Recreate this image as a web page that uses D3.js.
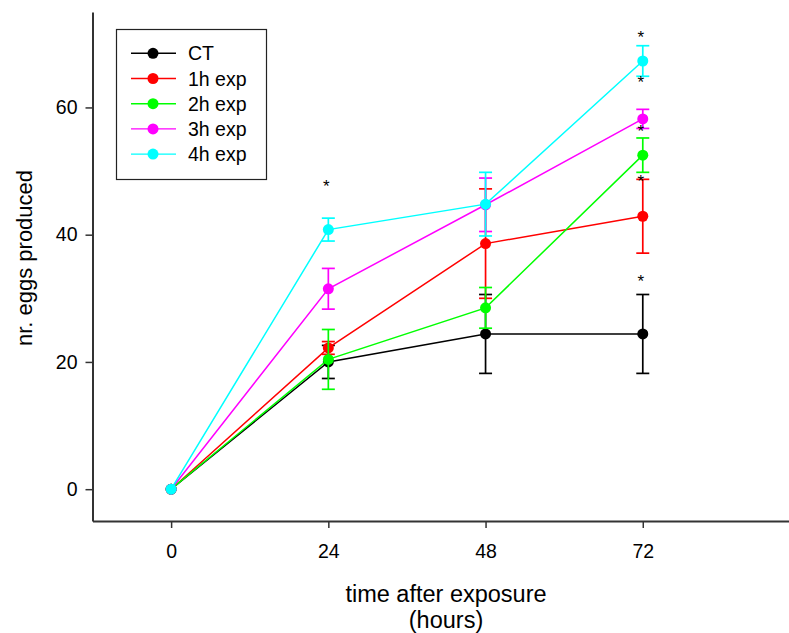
<!DOCTYPE html>
<html><head><meta charset="utf-8">
<script src="https://cdn.jsdelivr.net/npm/d3@7"></script>
<style>body{margin:0;background:#fff}svg{display:block}text{font-family:Arial,"Liberation Sans",sans-serif;fill:#000}</style>
</head><body><svg id="c" width="789" height="633"></svg>
<script>
const hours = [0, 24, 48, 72];
const seriesNames = ["CT", "1h exp", "2h exp", "3h exp", "4h exp"];
const seriesColors = ["#000000", "#ff0000", "#00ff00", "#ff00ff", "#00ffff"];
const ctMean = [0, 20.0, 24.4, 24.4];
const ctErr = [0, 2.6, 6.2, 6.2];
const h1Mean = [0, 22.2, 38.6, 42.9];
const h1Err = [0, 1.0, 8.6, 5.8];
const h2Mean = [0, 20.4, 28.5, 52.5];
const h2Err = [0, 4.7, 3.2, 2.7];
const h3Mean = [0, 31.5, 44.7, 58.2];
const h3Err = [0, 3.2, 4.2, 1.5];
const h4Mean = [0, 40.8, 44.8, 67.3];
const h4Err = [0, 1.8, 5.0, 2.4];
const xTicks = [0, 24, 48, 72];
const yTicks = [0, 20, 40, 60];
const starHours = [24, 72, 72, 72, 72, 72];
const starValues = [48.2, 71.5, 64.4, 56.7, 48.9, 33.2];

const means = [ctMean, h1Mean, h2Mean, h3Mean, h4Mean];
const errs = [ctErr, h1Err, h2Err, h3Err, h4Err];

const svg = d3.select("#c");
const x = d3.scaleLinear().domain([-12, 96]).range([92.5, 800]);
const y = d3.scaleLinear().domain([-5, 75]).range([521, 12]);

// axes
const yAxis = d3.axisLeft(y).tickValues(yTicks).tickSize(7).tickPadding(8).tickSizeOuter(0);
const gy = svg.append("g").attr("transform", `translate(${x.range()[0]},0)`).call(yAxis);
const xAxis = d3.axisBottom(x).tickValues(xTicks).tickSize(7).tickPadding(16).tickSizeOuter(0);
const gx = svg.append("g").attr("transform", `translate(0,${y.range()[0]})`).call(xAxis);
[gx, gy].forEach(g => {
  g.select(".domain").attr("stroke", "#333").attr("stroke-width", 2);
  g.selectAll(".tick line").attr("stroke", "#333").attr("stroke-width", 1.5);
  g.selectAll(".tick text").attr("font-size", 19.5).attr("font-family", "Arial, 'Liberation Sans', sans-serif").attr("fill", "#000");
});

// titles
svg.append("text").attr("x", 446).attr("y", 602).attr("text-anchor", "middle").attr("font-size", 23.5).text("time after exposure");
svg.append("text").attr("x", 446).attr("y", 628).attr("text-anchor", "middle").attr("font-size", 23.5).text("(hours)");
svg.append("text").attr("transform", "translate(32,258) rotate(-90)").attr("text-anchor", "middle").attr("font-size", 22).text("nr. eggs produced");

const line = d3.line().x((d, i) => x(hours[i])).y(d => y(d));
const cap = 6.5;
means.forEach((m, s) => {
  const g = svg.append("g");
  const col = seriesColors[s];
  g.append("path").attr("d", line(m)).attr("fill", "none").attr("stroke", col).attr("stroke-width", 1.5);
  hours.forEach((h, i) => {
    const e = errs[s][i];
    if (e <= 0) return;
    const cx = x(h), y1 = y(m[i] + e), y2 = y(m[i] - e);
    g.append("line").attr("x1", cx).attr("x2", cx).attr("y1", y1).attr("y2", y2).attr("stroke", col).attr("stroke-width", 1.7);
    [y1, y2].forEach(yy => g.append("line").attr("x1", cx - cap).attr("x2", cx + cap).attr("y1", yy).attr("y2", yy).attr("stroke", col).attr("stroke-width", 1.7));
  });
  g.selectAll("circle").data(m).enter().append("circle")
    .attr("cx", (d, i) => x(hours[i])).attr("cy", d => y(d)).attr("r", 5.5).attr("fill", col);
});

// significance stars
svg.selectAll("text.star").data(starValues).enter().append("text").attr("class", "star")
  .attr("x", (d, i) => x(starHours[i]) - 2).attr("y", d => y(d) + 9)
  .attr("text-anchor", "middle").attr("font-size", 17).text("*");

// legend
const lg = svg.append("g");
lg.append("rect").attr("x", 116.5).attr("y", 29.5).attr("width", 150).attr("height", 150)
  .attr("fill", "#fff").attr("stroke", "#222").attr("stroke-width", 1.2);
seriesNames.forEach((n, i) => {
  const yy = 53.3 + i * 25.2;
  lg.append("line").attr("x1", 131).attr("x2", 176).attr("y1", yy).attr("y2", yy).attr("stroke", seriesColors[i]).attr("stroke-width", 1.4);
  lg.append("circle").attr("cx", 153).attr("cy", yy).attr("r", 5.5).attr("fill", seriesColors[i]);
  lg.append("text").attr("x", 188).attr("y", yy).attr("dy", "0.36em").attr("font-size", 19.5).text(n);
});
</script></body></html>
